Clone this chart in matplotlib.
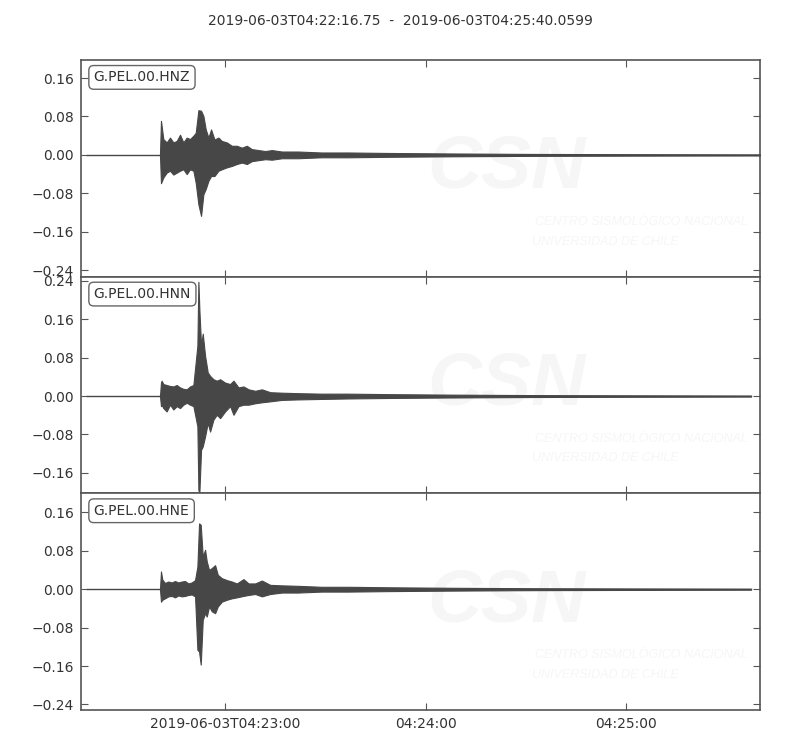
import datetime
import matplotlib
matplotlib.use("Agg")
import matplotlib.pyplot as plt
import matplotlib.dates as mdates
from matplotlib.ticker import MultipleLocator, FuncFormatter

### Data: envelope (max / min) of each trace
# times in seconds after 2019-06-03T04:22:16.75
t_start = datetime.datetime(2019, 6, 3, 4, 22, 16, 750000)
t_end = datetime.datetime(2019, 6, 3, 4, 25, 40, 59900)

channels = ["G.PEL.00.HNZ", "G.PEL.00.HNN", "G.PEL.00.HNE"]
trace_span = [(2.0, 203.3), (2.0, 200.6), (2.0, 200.6)]

hnz_t = [23.7, 24.0, 24.7, 25.7, 26.7, 27.7, 28.7, 29.7, 30.7, 31.7, 32.7, 33.7, 34.4,
         35.2, 36.0, 36.7, 37.4, 38.2, 39.0, 40.0, 41.2, 42.2, 43.7, 45.2, 46.7, 48.2,
         49.7, 51.2, 53.2, 55.2, 57.2, 60.2, 65.0, 72.0, 80.0, 92.0, 110.0, 135.0, 165.0, 203.3]
hnz_up = [0.0, 0.071, 0.033, 0.026, 0.036, 0.026, 0.029, 0.042, 0.026, 0.036, 0.033, 0.040, 0.046,
          0.093, 0.092, 0.081, 0.053, 0.036, 0.053, 0.032, 0.036, 0.029, 0.026, 0.019, 0.019, 0.015,
          0.019, 0.012, 0.010, 0.008, 0.010, 0.007, 0.007, 0.005, 0.005, 0.004, 0.003, 0.002, 0.0015, 0.001]
hnz_lo = [0.0, -0.059, -0.047, -0.037, -0.033, -0.041, -0.037, -0.033, -0.030, -0.040, -0.030, -0.033, -0.058,
          -0.103, -0.127, -0.082, -0.071, -0.054, -0.044, -0.044, -0.033, -0.030, -0.026, -0.023, -0.019, -0.016,
          -0.019, -0.013, -0.011, -0.009, -0.010, -0.007, -0.007, -0.005, -0.005, -0.004, -0.003, -0.002, -0.0015, -0.001]

hnn_t = [23.7, 24.0, 24.2, 24.7, 25.7, 26.7, 27.7, 28.7, 29.7, 30.7, 31.7, 32.7, 33.7, 34.9,
         35.2, 35.5, 36.0, 36.5, 37.2, 38.0, 38.7, 39.7, 40.7, 41.7, 43.2, 44.7, 45.7, 47.2,
         48.7, 50.2, 52.2, 54.2, 56.7, 60.2, 65.0, 72.0, 80.0, 92.0, 110.0, 135.0, 165.0, 200.6]
hnn_up = [0.0, 0.028, 0.032, 0.025, 0.023, 0.021, 0.020, 0.023, 0.018, 0.015, 0.014, 0.020, 0.023, 0.105,
          0.238, 0.179, 0.105, 0.130, 0.084, 0.049, 0.042, 0.035, 0.032, 0.035, 0.028, 0.025, 0.032, 0.018,
          0.020, 0.014, 0.011, 0.014, 0.008, 0.007, 0.006, 0.005, 0.005, 0.004, 0.003, 0.002, 0.0015, 0.001]
hnn_lo = [0.0, -0.021, -0.018, -0.025, -0.032, -0.018, -0.028, -0.021, -0.025, -0.018, -0.014, -0.018, -0.021, -0.063,
          -0.196, -0.200, -0.112, -0.105, -0.084, -0.056, -0.074, -0.049, -0.039, -0.046, -0.032, -0.021, -0.039, -0.021,
          -0.018, -0.018, -0.015, -0.013, -0.011, -0.008, -0.007, -0.006, -0.005, -0.004, -0.003, -0.002, -0.0015, -0.001]

hne_t = [23.7, 24.0, 24.4, 25.2, 26.2, 27.2, 28.2, 29.2, 30.2, 31.2, 32.2, 33.2, 34.2, 34.9,
         35.4, 35.9, 36.5, 37.2, 37.7, 38.4, 39.2, 40.2, 41.0, 42.2, 43.7, 45.2, 46.7, 48.7,
         50.2, 52.2, 54.2, 56.7, 60.2, 65.0, 72.0, 80.0, 92.0, 110.0, 135.0, 165.0, 200.6]
hne_up = [0.0, 0.037, 0.020, 0.013, 0.016, 0.014, 0.017, 0.014, 0.016, 0.017, 0.012, 0.014, 0.019, 0.047,
          0.137, 0.134, 0.068, 0.082, 0.058, 0.040, 0.044, 0.050, 0.030, 0.023, 0.019, 0.016, 0.012, 0.021,
          0.012, 0.012, 0.018, 0.009, 0.008, 0.007, 0.005, 0.005, 0.004, 0.003, 0.002, 0.0015, 0.001]
hne_lo = [0.0, -0.026, -0.022, -0.019, -0.015, -0.014, -0.017, -0.013, -0.015, -0.014, -0.012, -0.011, -0.015, -0.126,
          -0.130, -0.157, -0.064, -0.050, -0.057, -0.036, -0.046, -0.050, -0.036, -0.026, -0.022, -0.019, -0.017, -0.014,
          -0.012, -0.010, -0.015, -0.010, -0.007, -0.007, -0.005, -0.005, -0.004, -0.003, -0.002, -0.0015, -0.001]

env_t = [hnz_t, hnn_t, hne_t]
env_up = [hnz_up, hnn_up, hne_up]
env_lo = [hnz_lo, hnn_lo, hne_lo]

### Style
trace_col = "#474747"
frame_col = "#555555"
text_col = "#333333"
wm_col = "#f6f6f6"

plt.rcParams["font.family"] = "DejaVu Sans"

def to_dates(secs):
    return [t_start + datetime.timedelta(seconds=float(s)) for s in secs]

# same y-range for every panel, centre of each panel as in the original
half = max((max(u) - min(l)) for u, l in zip(env_up, env_lo)) / 2 * 1.03
y_centre = [-0.028, 0.023, -0.026]

fig = plt.figure(figsize=(8, 7.5), dpi=100)
fig.text(0.5, 0.972, "%s  -  %s" % ("2019-06-03T04:22:16.75", "2019-06-03T04:25:40.0599"),
         ha="center", va="center", fontsize=10, color=text_col)

left, right, top, bottom = 0.101, 0.95, 0.92, 0.0533
h = (top - bottom) / 3
for i in range(3):
    ax = fig.add_axes([left, top - (i + 1) * h, right - left, h])

    s0, s1 = trace_span[i]
    d = to_dates(env_t[i])
    ax.plot(to_dates([s0, env_t[i][0]]), [0, 0], color=trace_col, lw=1.0, zorder=3)
    ax.plot(to_dates([env_t[i][-1], s1]), [0, 0], color=trace_col, lw=1.0, zorder=3)
    ax.fill_between(d, env_lo[i], env_up[i], color=trace_col, lw=0.8, zorder=3)
    ax.plot(d, [0] * len(d), color=trace_col, lw=1.0, zorder=3)

    ax.set_ylim(y_centre[i] - half, y_centre[i] + half)
    ax.set_xlim(t_start, t_end)

    ax.yaxis.set_major_locator(MultipleLocator(0.08))
    ax.yaxis.set_major_formatter(FuncFormatter(lambda v, p: ("%.2f" % v).replace("-", "\u2212")))
    ax.xaxis.set_major_locator(mdates.MinuteLocator())
    if i == 2:
        ax.xaxis.set_major_formatter(FuncFormatter(
            lambda v, p: mdates.num2date(v).strftime("%Y-%m-%dT%H:%M:%S") if p == 0
            else mdates.num2date(v).strftime("%H:%M:%S")))
    else:
        ax.tick_params(labelbottom=False)

    ax.tick_params(direction="in", top=True, right=True, length=5, width=0.8,
                   color=frame_col, labelcolor=text_col, labelsize=10, pad=5)
    for sp in ax.spines.values():
        sp.set_color(frame_col)
        sp.set_linewidth(1.2)

    ax.text(0.019, 0.952, channels[i], transform=ax.transAxes, ha="left", va="top",
            fontsize=10, color=text_col, zorder=5,
            bbox=dict(boxstyle="round,pad=0.35", fc="white", ec="#666666", lw=1.0))

    # very faint CSN watermark
    wm_font = ["Liberation Sans", "DejaVu Sans"]
    ax.text(0.627, 0.50, "CSN", transform=ax.transAxes, ha="center", va="center",
            fontsize=54, fontweight="bold", style="italic", color=wm_col, zorder=1,
            family=wm_font, clip_on=True)
    ax.text(0.668, 0.253, "CENTRO SISMOL\u00d3GICO NACIONAL", transform=ax.transAxes,
            ha="left", va="center", fontsize=9, style="italic", color=wm_col, zorder=1,
            family=wm_font, clip_on=True)
    ax.text(0.664, 0.161, "UNIVERSIDAD DE CHILE", transform=ax.transAxes,
            ha="left", va="center", fontsize=9, style="italic", color=wm_col, zorder=1,
            family=wm_font, clip_on=True)

fig.savefig("out.png", dpi=100)
